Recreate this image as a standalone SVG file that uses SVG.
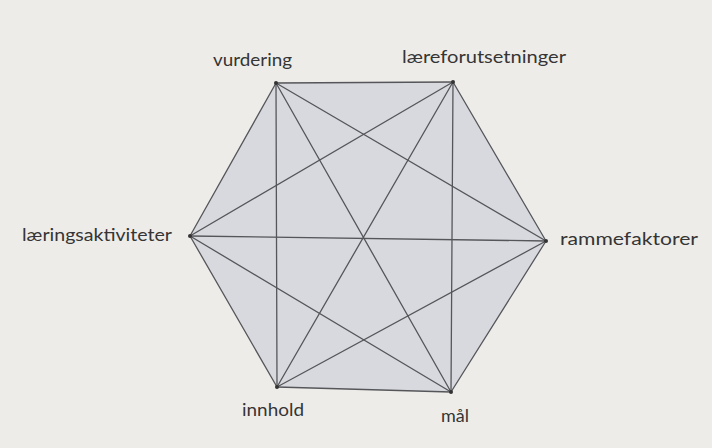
<svg xmlns="http://www.w3.org/2000/svg" width="712" height="448" viewBox="0 0 712 448">
<defs>
<style>
.bg{fill:#eeece8}
.hex{fill:#d8d9de;stroke:none}
.edge{stroke:#55565a;stroke-width:1.3;fill:none;stroke-linecap:round}
.dot{fill:#333}
.lbl{font-family:Lato,"Open Sans","Liberation Sans",sans-serif;font-size:18px;fill:#353535}
</style>
</defs>
<rect class="bg" x="0" y="0" width="712" height="448"/>
<polygon class="hex" points="276,83 453,82 546,241 451,392 277,387 190,236"/>
<g id="connectors">
<line class="edge" x1="276" y1="83" x2="453" y2="82"/>
<line class="edge" x1="453" y1="82" x2="546" y2="241"/>
<line class="edge" x1="546" y1="241" x2="451" y2="392"/>
<line class="edge" x1="451" y1="392" x2="277" y2="387"/>
<line class="edge" x1="277" y1="387" x2="190" y2="236"/>
<line class="edge" x1="190" y1="236" x2="276" y2="83"/>
<line class="edge" x1="276" y1="83" x2="546" y2="241"/>
<line class="edge" x1="276" y1="83" x2="451" y2="392"/>
<line class="edge" x1="276" y1="83" x2="277" y2="387"/>
<line class="edge" x1="453" y1="82" x2="451" y2="392"/>
<line class="edge" x1="453" y1="82" x2="277" y2="387"/>
<line class="edge" x1="453" y1="82" x2="190" y2="236"/>
<line class="edge" x1="546" y1="241" x2="277" y2="387"/>
<line class="edge" x1="546" y1="241" x2="190" y2="236"/>
<line class="edge" x1="451" y1="392" x2="190" y2="236"/>
</g>
<g id="vurdering"><circle class="dot" cx="276" cy="83" r="2"/><text class="lbl" x="213" y="66" textLength="79" lengthAdjust="spacingAndGlyphs">vurdering</text></g>
<g id="laereforutsetninger"><circle class="dot" cx="453" cy="82" r="2"/><text class="lbl" x="402" y="63" textLength="164" lengthAdjust="spacingAndGlyphs">læreforutsetninger</text></g>
<g id="rammefaktorer"><circle class="dot" cx="546" cy="241" r="2"/><text class="lbl" x="560" y="245" textLength="138" lengthAdjust="spacingAndGlyphs">rammefaktorer</text></g>
<g id="maal"><circle class="dot" cx="451" cy="392" r="2"/><text class="lbl" x="441" y="422" textLength="28" lengthAdjust="spacingAndGlyphs">mål</text></g>
<g id="innhold"><circle class="dot" cx="277" cy="387" r="2"/><text class="lbl" x="242" y="416" textLength="62" lengthAdjust="spacingAndGlyphs">innhold</text></g>
<g id="laeringsaktiviteter"><circle class="dot" cx="190" cy="236" r="2"/><text class="lbl" x="22" y="241" textLength="150" lengthAdjust="spacingAndGlyphs">læringsaktiviteter</text></g>
</svg>
